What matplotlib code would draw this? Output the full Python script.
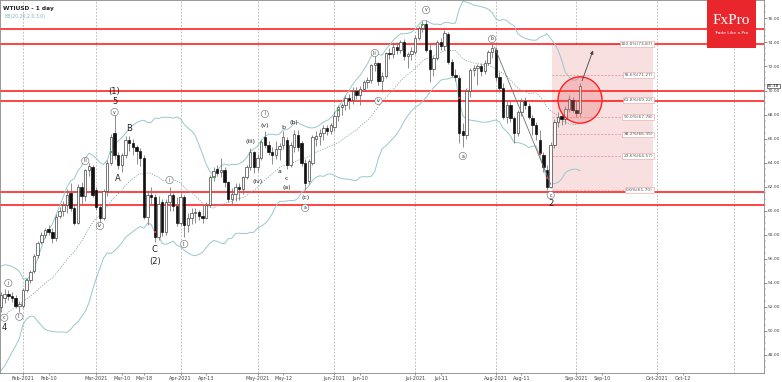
import numpy as np
import pandas as pd
import matplotlib.pyplot as plt
from matplotlib.patches import Rectangle, Ellipse
import matplotlib.transforms as mtransforms

# ---- data ----
# trading days shown, Jan 22 2021 .. end of Nov (Good Friday missing)
dates = [d for d in pd.bdate_range('2021-01-22', '2021-11-30') if d != pd.Timestamp('2021-04-02')]

# closes before the first visible bar, only used to warm up the bands
warmup_closes = [48.2, 47.6, 48.0, 48.4, 48.5, 47.6, 49.9, 50.6, 50.8, 52.2,
                 52.3, 53.2, 52.9, 53.6, 52.4, 52.4, 53.0, 53.2, 53.1]

opens = [52.0,
         52.7, 53.1, 52.9, 52.7, 52.1,
         52.1, 53.4, 54.2, 55.0, 56.3,
         57.4, 58.0, 58.5, 58.2, 57.7,
         59.6, 60.0, 60.5, 61.5, 60.2,
         59.0, 62.0, 61.2, 63.4, 63.6,
         61.7, 60.3, 59.4, 61.6, 64.0,
         66.5, 64.6, 63.8, 64.6, 65.9,
         65.6, 65.3, 65.0, 64.4, 59.5,
         61.3, 61.1, 57.8, 60.7, 58.2,
         60.7, 61.3, 60.4, 59.0,
         61.1, 58.8, 59.4, 59.8, 59.9,
         59.6, 59.4, 60.5, 62.8, 63.5,
         63.2, 63.4, 62.4, 61.0, 61.4,
         62.0, 61.8, 62.8, 63.6, 64.9,
         63.6, 64.4, 66.1, 65.5, 64.9,
         64.6, 65.1, 65.5, 65.9, 63.8,
         65.3, 66.3, 65.6, 64.0, 62.5,
         64.0, 66.0, 66.2, 66.5, 66.9,
         66.6, 67.0, 67.9, 68.6, 68.8,
         69.4, 69.2, 70.0, 69.6, 70.1,
         70.7, 70.9, 72.1, 72.3, 70.8,
         71.2, 73.1, 73.0, 73.6, 73.4,
         74.0, 72.9, 73.0, 73.2, 74.4,
         75.2, 75.5, 73.4, 71.8, 72.7,
         74.0, 73.7, 74.7, 72.4, 71.3,
         71.0, 66.6, 66.3, 70.0, 71.7,
         71.9, 72.0, 71.6, 72.3, 73.2,
         73.4, 71.1, 70.2, 67.8, 68.8,
         67.7, 66.5, 68.2, 69.1, 68.7,
         67.7, 67.1, 65.9, 64.6, 63.4,
         62.0, 65.5, 67.4, 67.9, 67.6,
         68.5, 69.2, 68.4, 68.1]
highs = [53.2,
         53.5, 53.4, 53.2, 53.0, 52.5,
         53.6, 54.4, 55.1, 56.4, 57.5,
         58.2, 58.6, 58.8, 58.6, 59.7,
         60.3, 60.8, 61.8, 62.3, 60.6,
         62.2, 62.4, 63.5, 64.0, 63.8,
         62.0, 60.6, 61.8, 64.2, 66.4,
         68.0, 64.9, 64.8, 66.2, 66.2,
         66.0, 65.5, 65.2, 64.6, 61.7,
         62.0, 61.4, 61.2, 61.0, 61.0,
         62.0, 61.5, 61.1, 61.5,
         61.3, 59.8, 60.2, 60.2, 60.1,
         60.5, 60.7, 63.0, 63.6, 63.8,
         64.4, 63.6, 62.5, 61.9, 62.3,
         62.3, 62.9, 63.8, 65.2, 65.0,
         64.7, 65.9, 66.6, 65.8, 65.3,
         65.8, 65.6, 66.6, 66.1, 65.7,
         66.7, 66.7, 65.8, 64.3, 64.3,
         66.3, 66.6, 66.8, 67.1, 67.1,
         67.3, 68.3, 68.8, 69.0, 69.6,
         69.7, 70.3, 70.3, 70.4, 70.9,
         71.1, 72.2, 72.9, 72.4, 71.5,
         73.2, 73.5, 74.0, 74.0, 74.2,
         74.3, 73.2, 73.6, 74.6, 75.4,
         75.8, 75.9, 73.9, 72.9, 74.2,
         74.4, 75.0, 74.9, 72.6, 71.8,
         71.3, 67.3, 70.2, 71.9, 72.1,
         72.2, 72.3, 72.5, 73.4, 73.87,
         73.6, 71.5, 70.6, 69.2, 69.1,
         67.9, 68.4, 69.4, 69.5, 69.0,
         68.0, 67.4, 66.7, 64.9, 63.8,
         65.7, 67.6, 68.2, 68.1, 68.7,
         69.6, 69.5, 69.1, 70.6]
lows = [51.6,
        52.3, 52.6, 52.4, 51.9, 51.6,
        51.9, 53.2, 54.0, 54.8, 56.1,
        57.2, 57.7, 58.0, 57.3, 57.5,
        59.4, 59.6, 59.8, 60.0, 58.8,
        58.9, 60.6, 60.8, 62.9, 61.1,
        60.1, 58.9, 59.2, 61.2, 63.8,
        64.3, 63.5, 63.2, 64.4, 65.0,
        64.6, 63.9, 63.7, 59.3, 58.8,
        60.6, 57.4, 57.6, 57.9, 58.0,
        60.0, 60.0, 58.7, 58.8,
        57.8, 58.2, 58.9, 59.0, 59.2,
        59.0, 59.3, 60.3, 62.5, 62.9,
        62.8, 62.0, 60.7, 60.6, 60.8,
        60.9, 61.4, 62.6, 63.4, 63.1,
        63.3, 64.2, 65.2, 64.6, 63.9,
        64.3, 64.2, 65.1, 63.5, 63.6,
        64.9, 65.0, 63.7, 61.7, 62.2,
        63.8, 65.4, 65.5, 65.9, 66.3,
        66.4, 66.6, 67.5, 68.0, 68.4,
        68.5, 68.9, 69.3, 68.8, 70.0,
        70.2, 70.6, 71.6, 70.5, 69.9,
        71.0, 72.6, 72.7, 73.0, 73.1,
        72.5, 71.9, 72.5, 73.0, 74.2,
        74.9, 73.2, 70.7, 71.2, 72.5,
        73.4, 73.4, 72.2, 71.1, 70.8,
        65.6, 65.3, 66.0, 69.5, 71.2,
        70.5, 71.2, 71.4, 72.1, 72.7,
        70.8, 69.9, 67.6, 67.3, 67.4,
        65.6, 66.2, 67.9, 68.5, 67.6,
        66.3, 65.9, 64.6, 63.2, 61.7,
        61.9, 65.2, 67.0, 67.1, 67.2,
        68.2, 68.2, 67.8, 67.9]
closes = [53.0,
          53.1, 52.9, 52.7, 52.1, 52.2,
          53.4, 54.2, 54.9, 56.2, 57.3,
          58.0, 58.4, 58.2, 57.7, 59.5,
          60.0, 60.5, 61.3, 60.2, 59.0,
          62.0, 61.2, 63.4, 63.7, 61.3,
          60.3, 59.4, 61.6, 64.0, 66.1,
          64.6, 63.8, 64.6, 65.9, 65.6,
          65.3, 65.0, 64.4, 59.5, 61.3,
          61.1, 57.8, 60.6, 58.2, 60.7,
          61.3, 60.4, 59.0, 61.1,
          58.8, 59.4, 59.8, 59.9, 59.6,
          59.4, 60.5, 62.8, 63.3, 63.1,
          63.4, 62.4, 61.0, 61.4, 62.0,
          61.8, 62.8, 63.6, 64.9, 63.6,
          64.4, 65.7, 65.5, 64.9, 64.6,
          65.1, 65.4, 66.1, 63.8, 65.5,
          66.4, 65.3, 64.0, 62.3, 64.1,
          66.1, 66.2, 66.5, 66.9, 66.6,
          67.1, 67.9, 68.6, 68.8, 69.4,
          69.2, 70.0, 69.6, 70.1, 70.7,
          70.9, 72.1, 72.3, 70.8, 71.2,
          73.1, 73.0, 73.6, 73.4, 74.0,
          72.9, 73.0, 73.3, 74.4, 75.2,
          75.5, 73.4, 71.8, 72.7, 74.0,
          73.7, 74.8, 72.4, 71.3, 71.1,
          66.5, 66.3, 70.0, 71.7, 71.9,
          72.0, 71.6, 72.3, 73.2, 73.5,
          71.1, 70.2, 67.8, 68.8, 67.7,
          66.5, 68.2, 69.1, 68.8, 67.8,
          67.1, 66.4, 64.8, 63.6, 62.0,
          65.5, 67.4, 67.8, 67.6, 68.5,
          69.3, 68.4, 68.1, 70.38]

last_price = 70.38

# horizontal support / resistance lines
levels = [75.1, 73.85, 70.0, 69.1, 61.55, 60.45]

# fibonacci retracement (b high -> c low)
fib_high = 73.87
fib_low = 61.70
fib_ratios = [1.0, 0.786, 0.618, 0.5, 0.382, 0.236, 0.0]
fib_start = '2021-08-23'
fib_end = '2021-09-30'

tick_dates = ['2021-02-01', '2021-02-10', '2021-03-01', '2021-03-10', '2021-03-18',
              '2021-04-01', '2021-04-13', '2021-05-03', '2021-05-12', '2021-06-01',
              '2021-06-10', '2021-07-01', '2021-07-12', '2021-08-02', '2021-08-11',
              '2021-09-01', '2021-09-10', '2021-10-01', '2021-10-12']
tick_labels = ['Feb-2021', 'Feb-10', 'Mar-2021', 'Mar-10', 'Mar-18', 'Apr-2021', 'Apr-13',
               'May-2021', 'May-12', 'Jun-2021', 'Jun-10', 'Jul-2021', 'Jul-11',
               'Aug-2021', 'Aug-11', 'Sep-2021', 'Sep-10', 'Oct-2021', 'Oct-12']
month_starts = ['2021-02-01', '2021-03-01', '2021-04-01', '2021-05-03', '2021-06-01',
                '2021-07-01', '2021-08-02', '2021-09-01', '2021-10-01', '2021-11-01']

# elliott wave labels: text, date, price, circled
wave_labels = [
    ('c', '2021-01-22', 51.1, True), ('4', '2021-01-22', 50.3, False),
    ('i', '2021-01-26', 53.98, True), ('ii', '2021-01-29', 51.18, True),
    ('iii', '2021-02-24', 64.14, True), ('iv', '2021-03-02', 58.73, True),
    ('(1)', '2021-03-08', 69.9, False), ('5', '2021-03-08', 69.05, False),
    ('v', '2021-03-08', 68.21, True), ('A', '2021-03-09', 62.7, False),
    ('B', '2021-03-12', 66.88, False), ('C', '2021-03-23', 56.8, False),
    ('(2)', '2021-03-23', 55.8, False), ('i', '2021-03-29', 62.55, True),
    ('ii', '2021-04-05', 57.23, True), ('(iii)', '2021-04-29', 65.8, False),
    ('(iv)', '2021-05-03', 62.47, False), ('i', '2021-05-05', 68.05, True),
    ('(v)', '2021-05-05', 67.05, False), ('a', '2021-05-11', 63.3, False),
    ('b', '2021-05-12', 66.96, False), ('c', '2021-05-13', 62.72, False),
    ('(a)', '2021-05-13', 61.97, False), ('(b)', '2021-05-17', 67.3, False),
    ('(c)', '2021-05-20', 61.06, False), ('a', '2021-05-20', 60.23, True),
    ('iii', '2021-06-16', 73.12, True), ('iv', '2021-06-17', 69.13, True),
    ('v', '2021-07-06', 76.7, True), ('a', '2021-07-20', 64.55, True),
    ('b', '2021-07-30', 74.29, True), ('c', '2021-08-23', 61.3, True),
    ('2', '2021-08-23', 60.6, False),
]

green_marks = [('2021-02-02', 54.2), ('2021-03-05', 64.9), ('2021-04-15', 62.8),
               ('2021-05-04', 65.7), ('2021-06-02', 68.4), ('2021-07-05', 75.45)]
red_marks = [('2021-03-23', 58.2), ('2021-07-19', 69.4), ('2021-08-18', 64.7),
             ('2021-08-20', 62.7)]

# ---- drawing ----
pos = {d: i for i, d in enumerate(dates)}
def ix(s):
    return pos[pd.Timestamp(s)]

fig = plt.figure(figsize=(7.82, 3.82), dpi=100)
ax = fig.add_axes([0, 9 / 382, 764 / 782, 373 / 382])
ax.set_xlim(-0.27, 208.2)
ax.set_ylim(46.5, 77.53)

for m in month_starts:
    ax.axvline(ix(m), color='#b0b0b0', lw=0.6, ls=(0, (2, 2)), zorder=0)

# fib box
x0, x1 = ix(fib_start) + 0.3, ix(fib_end) - 0.1
ax.add_patch(Rectangle((x0, fib_low), x1 - x0, fib_high - fib_low,
                       fc='#f8dfe0', ec='none', zorder=0.5))
for r in fib_ratios:
    lv = fib_low + r * (fib_high - fib_low)
    ax.plot([x0, x1], [lv, lv], color='#e48a8a', lw=0.5, ls=(0, (3, 2)), zorder=0.6)
    ax.text(x1, lv, '%.1f%%(%.2f)' % (r * 100, lv), fontsize=3.2, color='#555555',
            ha='right', va='center', zorder=5,
            bbox=dict(boxstyle='square,pad=0.2', fc='white', ec='#e8a0a0', lw=0.4))

for lv in levels:
    ax.axhline(lv, color='#ff1010', lw=1.1, zorder=1)

# bollinger bands
all_close = pd.Series(warmup_closes + closes)
mid = all_close.rolling(20).mean()
sd = all_close.rolling(20).std(ddof=0)
bx = np.arange(len(all_close)) - len(warmup_closes)
ax.plot(bx, mid + 2 * sd, color='#98c8cc', lw=0.7, zorder=1.5)
ax.plot(bx, mid - 2 * sd, color='#98c8cc', lw=0.7, zorder=1.5)
ax.plot(bx, mid, color='#8aa8aa', lw=0.6, ls=(0, (1.5, 1.5)), zorder=1.5)

# candles
xs = np.arange(len(closes))
o = np.array(opens); c = np.array(closes)
ax.vlines(xs, lows, highs, color='#7a7a7a', lw=0.6, zorder=2)
up = c >= o
ax.bar(xs[up], (c - o)[up], bottom=o[up], width=0.66, color='white',
       edgecolor='#444444', linewidth=0.5, zorder=3)
ax.bar(xs[~up], (o - c)[~up], bottom=c[~up], width=0.66, color='#111111',
       edgecolor='#111111', linewidth=0.5, zorder=3)

ax.scatter([ix(d) for d, p in green_marks], [p for d, p in green_marks],
           marker='s', s=4, color='#3db24a', zorder=4, linewidths=0)
ax.scatter([ix(d) for d, p in red_marks], [p for d, p in red_marks],
           marker='s', s=3, color='#e03030', zorder=4, linewidths=0)

# trendline b -> c and projection arrow
ax.plot([ix('2021-08-02') - 0.3, ix('2021-08-23')], [73.6, 62.2], color='#707070', lw=0.6, zorder=4)
ax.annotate('', xy=(ix('2021-09-02') + 3.8, 73.55), xytext=(ix('2021-09-02') + 0.3, 70.6),
            arrowprops=dict(arrowstyle='-|>', color='#444444', lw=0.6,
                            mutation_scale=5), zorder=6)

# highlight circle
ax.add_patch(Ellipse((ix('2021-09-01') + 1, 69.21), 12, 3.85, fc='#ee6a6a', alpha=0.3,
                     ec='none', zorder=5))
ax.add_patch(Ellipse((ix('2021-09-01') + 1, 69.21), 12, 3.85, fc='none', ec='#ff2020',
                     lw=1.0, zorder=5))

for t, d, p, circ in wave_labels:
    xpos = max(ix(d), 0.9)
    if circ:
        ax.text(xpos, p, t, fontsize=3.3, ha='center', va='center', color='#333333',
                zorder=7, bbox=dict(boxstyle='circle,pad=0.25', fc='white', ec='#666666', lw=0.4))
    elif t in ('(1)', '5', 'A', 'B', 'C', '(2)', '2', '4'):
        ax.text(xpos, p, t, fontsize=6, ha='center', va='center', color='#222222', zorder=7)
    else:
        ax.text(xpos, p, t, fontsize=4.5, ha='center', va='center', color='#222222', zorder=7)

# axes styling
for s in ax.spines.values():
    s.set_color('#888888')
    s.set_linewidth(0.6)
ax.yaxis.tick_right()
ax.set_yticks(np.arange(48, 77, 2))
ax.set_yticklabels(['%.2f' % v for v in np.arange(48, 77, 2)])
ax.set_yticks(np.arange(47.0, 77.5, 0.5), minor=True)
ax.tick_params(axis='y', which='major', labelsize=3.2, length=2.0, width=0.4, pad=0.8,
               colors='#444444')
ax.tick_params(axis='y', which='minor', length=1.2, width=0.3, colors='#666666')
ax.set_xticks([ix(d) for d in tick_dates])
ax.set_xticklabels(tick_labels)
ax.tick_params(axis='x', labelsize=3.5, length=1.5, width=0.4, pad=0.5, colors='#444444')

trans = mtransforms.blended_transform_factory(ax.transAxes, ax.transData)
ax.text(1.004, last_price, '%.2f' % last_price, transform=trans, fontsize=3.2, color='#222222',
        ha='left', va='center', zorder=8, clip_on=False,
        bbox=dict(boxstyle='square,pad=0.1', fc='white', ec='#444444', lw=0.5))

ax.text(0.004, 0.985, 'WTIUSD - 1 day', transform=ax.transAxes, fontsize=4.2,
        fontweight='bold', color='#222222', va='top', ha='left')
ax.text(0.006, 0.962, 'BB(20,20,2.0,3.0)', transform=ax.transAxes, fontsize=3.3,
        color='#7fb5b8', va='top', ha='left')

# FxPro badge
fig.add_artist(Rectangle((707 / 782, 1 - 48 / 382), 49 / 782, 48 / 382,
                         transform=fig.transFigure, fc='#e8262c', ec='none', zorder=10))
fig.text(731.5 / 782, 1 - 20 / 382, 'FxPro', fontsize=11, family='Liberation Serif',
         color='white', ha='center', va='center', zorder=11)
fig.text(731.5 / 782, 1 - 33 / 382, 'Trade Like a Pro', fontsize=3.2, color='white',
         ha='center', va='center', zorder=11)

fig.savefig('out.png', dpi=100)
